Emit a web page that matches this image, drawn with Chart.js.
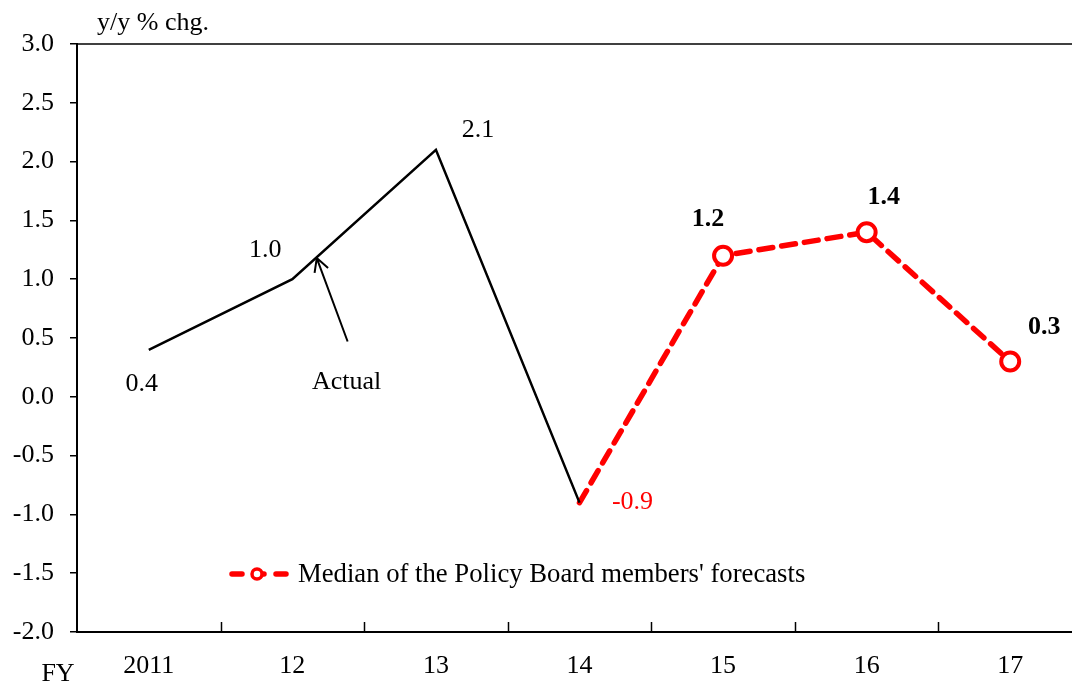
<!DOCTYPE html>
<html>
<head>
<meta charset="utf-8">
<script src="https://cdn.jsdelivr.net/npm/chart.js@4.4.1/dist/chart.umd.min.js"></script>
<style>
  html, body { margin: 0; padding: 0; background: #fff; overflow: hidden; }
  #wrap { width: 1095px; height: 683px; }
</style>
</head>
<body>
<div id="wrap"><canvas id="graph" width="1095" height="683"></canvas></div>
<script>
"use strict";

// data
const categories = ["2011", "12", "13", "14", "15", "16", "17"];
const actual_values = [0.4, 1.0, 2.1, -0.9, null, null, null];
const forecast_values = [null, null, null, -0.9, 1.2, 1.4, 0.3];
const y_min = -2.0;
const y_max = 3.0;
const y_step = 0.5;
const forecast_label = "Median of the Policy Board members' forecasts";

const FONT = "'Liberation Serif', 'Times New Roman', serif";
const FS = 26;
const RED = "#ff0000";

// value labels next to the points (offsets in px)
const value_labels = [
  { ds: 0, i: 0, text: "0.4", dx: -7, dy: 34, bold: false, color: "#000" },
  { ds: 0, i: 1, text: "1.0", dx: -27, dy: -29, bold: false, color: "#000" },
  { ds: 0, i: 2, text: "2.1", dx: 42, dy: -20, bold: false, color: "#000" },
  { ds: 1, i: 3, text: "-0.9", dx: 53, dy: 0, bold: false, color: RED },
  { ds: 1, i: 4, text: "1.2", dx: -15, dy: -36, bold: true, color: "#000" },
  { ds: 1, i: 5, text: "1.4", dx: 17, dy: -35, bold: true, color: "#000" },
  { ds: 1, i: 6, text: "0.3", dx: 34, dy: -34, bold: true, color: "#000" },
];

const extras = {
  id: "extras",
  afterDraw(chart) {
    const { ctx, chartArea, scales } = chart;
    const xs = scales.x;
    const ys = scales.y;
    ctx.save();

    // top border of the plot area
    ctx.strokeStyle = "#000";
    ctx.lineWidth = 1.5;
    ctx.beginPath();
    ctx.moveTo(chartArea.left, chartArea.top);
    ctx.lineTo(chartArea.right, chartArea.top);
    ctx.stroke();

    // inward tick marks between categories
    const step = xs.getPixelForValue(1) - xs.getPixelForValue(0);
    for (let i = 0; i < categories.length; i++) {
      const px = Math.round(xs.getPixelForValue(i) + step / 2) + 0.5;
      ctx.beginPath();
      ctx.moveTo(px, chartArea.bottom);
      ctx.lineTo(px, chartArea.bottom - 10);
      ctx.stroke();
    }

    // value labels
    ctx.textAlign = "center";
    ctx.textBaseline = "middle";
    value_labels.forEach((l) => {
      const pt = chart.getDatasetMeta(l.ds).data[l.i];
      ctx.font = (l.bold ? "bold " : "") + FS + "px " + FONT;
      ctx.fillStyle = l.color;
      ctx.fillText(l.text, pt.x + l.dx, pt.y + l.dy);
    });

    // "Actual" arrow
    const tip_x = xs.getPixelForValue(1.17);
    const tip_y = ys.getPixelForValue(1.18);
    const tail_x = xs.getPixelForValue(1.385);
    const tail_y = ys.getPixelForValue(0.47);
    ctx.strokeStyle = "#000";
    ctx.lineWidth = 2;
    ctx.beginPath();
    ctx.moveTo(tail_x, tail_y);
    ctx.lineTo(tip_x, tip_y);
    const ang = Math.atan2(tail_y - tip_y, tail_x - tip_x);
    [-0.5, 0.5].forEach((a) => {
      ctx.moveTo(tip_x, tip_y);
      ctx.lineTo(tip_x + 15 * Math.cos(ang + a), tip_y + 15 * Math.sin(ang + a));
    });
    ctx.stroke();
    ctx.font = FS + "px " + FONT;
    ctx.fillStyle = "#000";
    ctx.fillText("Actual", tail_x - 1, tail_y + 41);

    // axis titles
    ctx.textAlign = "left";
    ctx.fillText("y/y % chg.", chartArea.left + 20, chartArea.top - 21);
    ctx.textAlign = "center";
    ctx.fillText("FY", 58, 674);

    // legend
    const ly = 574;
    ctx.strokeStyle = RED;
    ctx.lineWidth = 5.5;
    ctx.lineCap = "round";
    ctx.setLineDash([10, 12]);
    ctx.beginPath();
    ctx.moveTo(232, ly);
    ctx.lineTo(294, ly);
    ctx.stroke();
    ctx.setLineDash([]);
    ctx.beginPath();
    ctx.arc(257, ly, 5, 0, Math.PI * 2);
    ctx.fillStyle = "#fff";
    ctx.fill();
    ctx.lineWidth = 3.5;
    ctx.stroke();
    ctx.fillStyle = "#000";
    ctx.textAlign = "left";
    ctx.font = "26.7px " + FONT;
    ctx.fillText(forecast_label, 298, ly + 1);

    ctx.restore();
  },
};

new Chart(document.getElementById("graph"), {
  type: "line",
  data: {
    labels: categories,
    datasets: [
      {
        label: "Actual",
        data: actual_values,
        borderColor: "#000",
        borderWidth: 2.5,
        pointRadius: 0,
        tension: 0,
        spanGaps: false,
      },
      {
        label: forecast_label,
        data: forecast_values,
        borderColor: RED,
        borderWidth: 5.5,
        borderDash: [14, 9],
        borderCapStyle: "round",
        pointRadius: [0, 0, 0, 0, 9, 9, 9],
        pointBorderWidth: 4,
        pointBorderColor: RED,
        pointBackgroundColor: "#fff",
        tension: 0,
      },
    ],
  },
  options: {
    responsive: false,
    animation: false,
    events: [],
    layout: { padding: { top: 44, right: 4, left: 0, bottom: 0 } },
    plugins: { legend: { display: false }, tooltip: { enabled: false } },
    scales: {
      x: {
        offset: true,
        grid: { display: false },
        border: { color: "#000", width: 2 },
        ticks: { color: "#000", padding: 11, font: { family: FONT, size: FS } },
        afterFit: (scale) => { scale.height = 51; },
      },
      y: {
        min: y_min,
        max: y_max,
        grid: { drawOnChartArea: false, color: "#000", lineWidth: 1.5, tickLength: 7 },
        border: { color: "#000", width: 2 },
        ticks: {
          stepSize: y_step,
          color: "#000",
          padding: 16,
          font: { family: FONT, size: FS },
          callback: (v) => Number(v).toFixed(1),
        },
        afterFit: (scale) => { scale.width = 77; },
      },
    },
  },
  plugins: [extras],
});
</script>
</body>
</html>
